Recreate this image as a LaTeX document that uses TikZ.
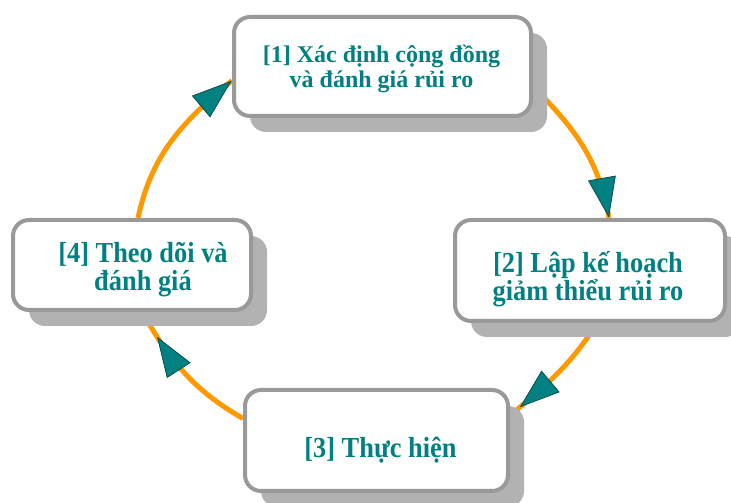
\documentclass[tikz,border=0pt]{standalone}
\usepackage{fontspec}
\setmainfont{Liberation Serif}
\newfontfamily\stagefont[FakeStretch=0.91]{Liberation Serif}
\usetikzlibrary{arrows.meta,shadows,backgrounds,decorations.markings}
\definecolor{boxgray}{HTML}{999999}
\definecolor{shadegray}{HTML}{B2B2B2}
\definecolor{cyclegold}{HTML}{FF9900}
\definecolor{tealtext}{HTML}{008080}
\definecolor{tealedge}{HTML}{003C3C}

\begin{document}
\begin{tikzpicture}[x=1pt, y=1pt,
  stage/.style={draw=boxgray, line width=4pt, fill=white, rounded corners=16pt,
    drop shadow={shadow xshift=16pt, shadow yshift=-16pt, fill=shadegray, opacity=1}},
  stagetext/.style={text=tealtext, align=center,
    font={\stagefont\bfseries\fontsize{29}{28}\selectfont\lineskiplimit=-100pt}},
  cycle/.style={draw=cyclegold, line width=5pt},
  headat/.style={postaction={decorate, decoration={markings,
    mark=at position -#1 with {\arrow{Triangle[length=40pt, width=28pt, fill=tealtext, color=tealedge, line width=0.6pt]}}}}}]

\useasboundingbox (0,0) rectangle (731,503);

% the four stages
\node[stage, minimum width=297pt, minimum height=99pt] (b1) at (382.5,436.5) {};
\node[stage, minimum width=270pt, minimum height=101pt] (b2) at (590,232.5) {};
\node[stage, minimum width=263pt, minimum height=101pt] (b3) at (376.5,62.5) {};
\node[stage, minimum width=238pt, minimum height=90pt] (b4) at (132,238) {};

\node[stagetext, font={\bfseries\fontsize{24}{25}\selectfont\lineskiplimit=-100pt}] (t1) at ([shift={(-1,-2)}]b1.center) {[1] Xác định cộng đồng\\và đánh giá rủi ro};
\node[stagetext] (t2) at ([shift={(-2,-8.5)}]b2.center) {[2] Lập kế hoạch\\giảm thiểu rủi ro};
\node[stagetext] (t3) at ([shift={(4,-9.5)}]b3.center) {[3] Thực hiện};
\node[stagetext] (t4) at ([shift={(11,-5)}]b4.center) {[4] Theo dõi và\\đánh giá};

% the cycle
\begin{scope}[on background layer]
  \draw[cycle, headat=0.5pt] ([xshift=6pt]b4.north) to[out=78, in=220] ([yshift=-14pt]b1.west);
  \draw[cycle, headat=0.5pt] ([yshift=-20pt]b1.east) to[out=-45, in=100] ([xshift=19pt]b2.north);
  \draw[cycle, headat=13pt] ([xshift=7pt]b2.south) to[out=238, in=40] ([yshift=25pt]b3.east);
  \draw[cycle, headat=29pt] ([yshift=22pt]b3.west) to[out=150, in=-60] ([xshift=10pt]b4.south);
\end{scope}
\end{tikzpicture}
\end{document}
